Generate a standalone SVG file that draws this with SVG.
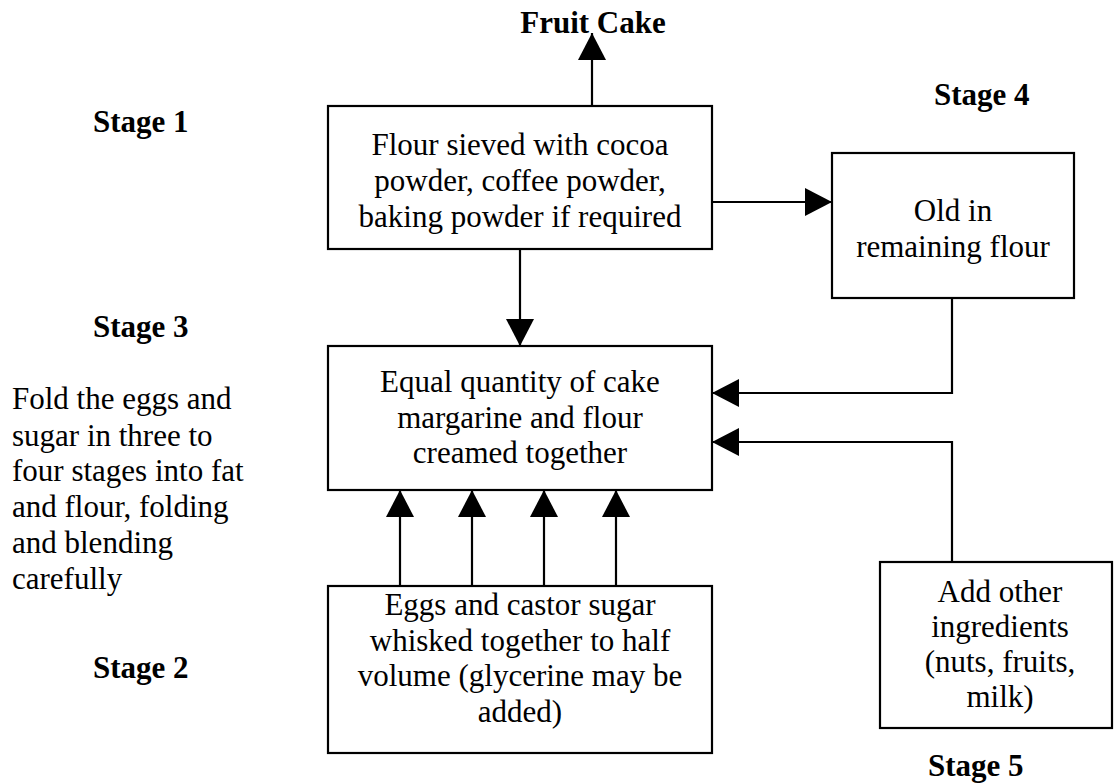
<svg xmlns="http://www.w3.org/2000/svg" width="1117" height="784" viewBox="0 0 1117 784">
<style>
.t{font-family:"Liberation Serif","Times New Roman",serif;font-size:31px;fill:#000}
.b{font-weight:bold}
.m{text-anchor:middle}
.box{fill:#fff;stroke:#000;stroke-width:2.2}
.c{fill:none;stroke:#000;stroke-width:2.2}
</style>
<defs>
<marker id="ah" markerUnits="userSpaceOnUse" markerWidth="28" markerHeight="28" refX="27" refY="14" orient="auto">
<path d="M0,0 L27,14 L0,28 Z" fill="#000"/>
</marker>
</defs>
<rect width="1117" height="784" fill="#fff"/>
<g id="labels">
<text class="t b m" x="593" y="33">Fruit Cake</text>
<text class="t b" x="93" y="132">Stage 1</text>
<text class="t b" x="93" y="337">Stage 3</text>
<text class="t b" x="93" y="678">Stage 2</text>
<text class="t b" x="934" y="105">Stage 4</text>
<text class="t b" x="928" y="776">Stage 5</text>
<text class="t" x="12" y="409">Fold the eggs and</text>
<text class="t" x="12" y="446">sugar in three to</text>
<text class="t" x="12" y="481">four stages into fat</text>
<text class="t" x="12" y="517">and flour, folding</text>
<text class="t" x="12" y="553">and blending</text>
<text class="t" x="12" y="589">carefully</text>
</g>
<g id="connectors">
<line class="c" x1="592" y1="106" x2="592" y2="33" marker-end="url(#ah)"/>
<line class="c" x1="712" y1="202" x2="832" y2="202" marker-end="url(#ah)"/>
<line class="c" x1="520" y1="249" x2="520" y2="346" marker-end="url(#ah)"/>
<polyline class="c" points="952,298 952,393 712,393" marker-end="url(#ah)"/>
<polyline class="c" points="952,562 952,442 712,442" marker-end="url(#ah)"/>
<line class="c" x1="400" y1="586" x2="400" y2="490" marker-end="url(#ah)"/>
<line class="c" x1="472" y1="586" x2="472" y2="490" marker-end="url(#ah)"/>
<line class="c" x1="544" y1="586" x2="544" y2="490" marker-end="url(#ah)"/>
<line class="c" x1="616" y1="586" x2="616" y2="490" marker-end="url(#ah)"/>
</g>
<g id="node-flour">
<rect class="box" x="328" y="106" width="384" height="143"/>
<text class="t m" x="520" y="155">Flour sieved with cocoa</text>
<text class="t m" x="520" y="191">powder, coffee powder,</text>
<text class="t m" x="520" y="227">baking powder if required</text>
</g>
<g id="node-old">
<rect class="box" x="832" y="153" width="242" height="145"/>
<text class="t m" x="953" y="221">Old in</text>
<text class="t m" x="953" y="257">remaining flour</text>
</g>
<g id="node-cream">
<rect class="box" x="328" y="346" width="384" height="144"/>
<text class="t m" x="520" y="392">Equal quantity of cake</text>
<text class="t m" x="520" y="428">margarine and flour</text>
<text class="t m" x="520" y="463">creamed together</text>
</g>
<g id="node-eggs">
<rect class="box" x="328" y="586" width="384" height="167"/>
<text class="t m" x="520" y="615">Eggs and castor sugar</text>
<text class="t m" x="520" y="651">whisked together to half</text>
<text class="t m" x="520" y="686">volume (glycerine may be</text>
<text class="t m" x="520" y="722">added)</text>
</g>
<g id="node-other">
<rect class="box" x="880" y="562" width="232" height="166"/>
<text class="t m" x="1000" y="602">Add other</text>
<text class="t m" x="1000" y="637">ingredients</text>
<text class="t m" x="1000" y="672">(nuts, fruits,</text>
<text class="t m" x="1000" y="707">milk)</text>
</g>
</svg>
